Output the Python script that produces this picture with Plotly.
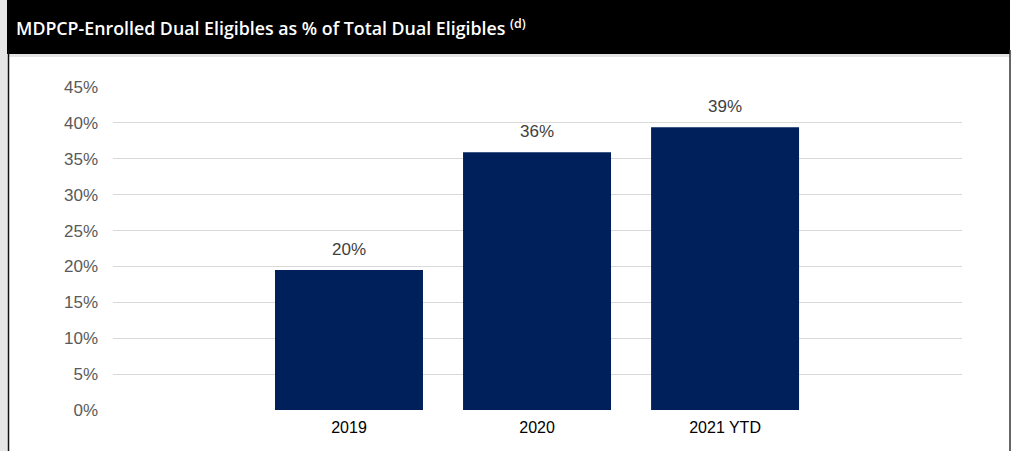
import plotly.graph_objects as go

categories = ["2019", "2020", "2021 YTD"]
values = [19.5, 35.9, 39.4]
labels = ["20%", "36%", "39%"]
tick_vals = [0, 5, 10, 15, 20, 25, 30, 35, 40, 45]
tick_text = ["0%", "5%", "10%", "15%", "20%", "25%", "30%", "35%", "40%", "45%"]
title_text = "MDPCP-Enrolled Dual Eligibles as % of Total Dual Eligibles <sup>(d)</sup>"

W, H = 1011, 451
L, R, T, B = 113, 49, 87, 41
pw, ph = W - L - R, H - T - B

def px(x):
    return (x - L) / pw

def py(y):
    return (H - B - y) / ph

fig = go.Figure()
fig.add_trace(go.Bar(
    x=categories, y=values, marker=dict(color="#00205B", line=dict(width=0)),
    width=0.787, hoverinfo="skip",
))

for i, (v, t) in enumerate(zip(values, labels)):
    fig.add_annotation(x=i, y=v, text=t, showarrow=False, yanchor="bottom",
                       yshift=9, font=dict(family="Liberation Sans, Arial", size=17, color="#404040"))

shapes = [
    dict(type="rect", xref="paper", yref="paper", x0=px(0), x1=px(7.5), y0=py(H), y1=py(0),
         fillcolor="#e6e6e6", line=dict(width=0), layer="below"),
    dict(type="rect", xref="paper", yref="paper", x0=px(7), x1=px(1010), y0=py(54), y1=py(0),
         fillcolor="#000000", line=dict(width=0), layer="below"),
    dict(type="rect", xref="paper", yref="paper", x0=px(9), x1=px(1009), y0=py(57), y1=py(54),
         fillcolor="#e4e4e4", line=dict(width=0), layer="below"),
    dict(type="line", xref="paper", yref="paper", x0=px(8.5), x1=px(8.5), y0=py(H), y1=py(50),
         line=dict(color="#111111", width=1.5), layer="below"),
    dict(type="line", xref="paper", yref="paper", x0=px(1010), x1=px(1010), y0=py(H), y1=py(50),
         line=dict(color="#333333", width=1.5), layer="below"),
]

fig.add_annotation(xref="paper", yref="paper", x=px(14), y=py(27.5), xanchor="left", yanchor="middle",
                   text=title_text, showarrow=False,
                   font=dict(family="Open Sans, Lato, sans-serif", size=17.8, weight=600, color="#ffffff"))

fig.update_layout(
    width=W, height=H,
    margin=dict(l=L, r=R, t=T, b=B, pad=0),
    paper_bgcolor="#ffffff", plot_bgcolor="#ffffff",
    showlegend=False, shapes=shapes,
    xaxis=dict(type="category", categoryorder="array", categoryarray=categories,
               range=[-1.255, 3.26], showgrid=False, zeroline=False, showline=False,
               ticks="", ticklabelstandoff=6,
               tickfont=dict(family="Liberation Sans, Arial", size=16, color="#000000")),
    yaxis=dict(range=[0, 45], tickvals=tick_vals, ticktext=tick_text,
               showgrid=True, gridcolor="#d9d9d9", gridwidth=1.3, zeroline=False, showline=False,
               ticks="", ticklabelstandoff=14,
               tickfont=dict(family="Liberation Sans, Arial", size=17, color="#595959")),
    bargap=0.2,
)

fig.write_html("out.html")
